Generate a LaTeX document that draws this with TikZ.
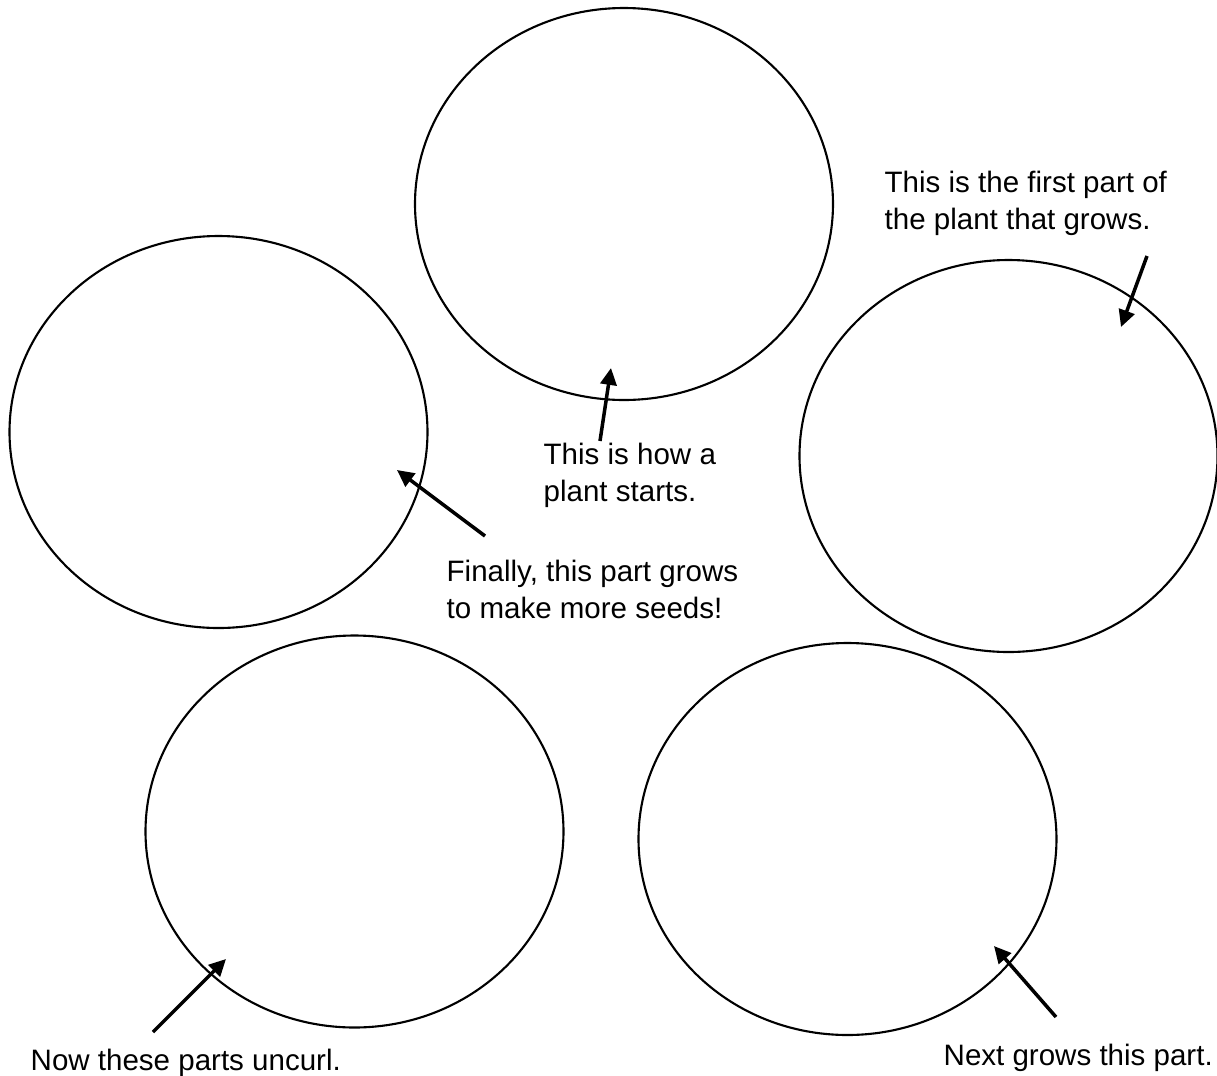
\documentclass[tikz,border=0pt]{standalone}
\usepackage{fontspec}
\setmainfont{Liberation Sans}
\usepackage{tikz}
\usetikzlibrary{arrows.meta}
\usetikzlibrary{shapes.geometric}

\begin{document}
\begin{tikzpicture}
\fontsize{8.4}{10.5}\selectfont
\tikzstyle{stage}=[ellipse, draw=black, line width=0.6pt, minimum width=4.18cm, minimum height=3.92cm, inner sep=0pt]
\tikzstyle{pointer}=[line width=1pt, -{Triangle[length=4.8pt, width=4.6pt]}]
\tikzstyle{note}=[inner sep=0pt, align=left]
\useasboundingbox (0,0) rectangle (12.17,-10.76);
% the five stages
\foreach \name/\x/\y in {seed/6.24/-2.04, sprout/10.085/-4.56, stem/8.475/-8.39, leaves/3.545/-8.315, flower/2.185/-4.32}
    \node[stage] (\name) at (\x,\y) {};
% labels
\node[note, anchor=north west] (l-seed) at (5.43,-4.42) {This is how a\\plant starts.};
\node[note, anchor=north west] (l-sprout) at (8.84,-1.70) {This is the first part of\\the plant that grows.};
\node[note, anchor=north west] (l-flower) at (4.46,-5.59) {Finally, this part grows\\to make more seeds!};
\node[note, anchor=base west] (l-leaves) at (0.30,-10.70) {Now these parts uncurl.};
\node[note, anchor=base west] (l-stem) at (9.43,-10.65) {Next grows this part.};
% arrow ends
\foreach \name/\tx/\ty/\hx/\hy in {seed/6.00/-4.41/6.11/-3.68, sprout/11.47/-2.56/11.21/-3.27, flower/4.85/-5.36/3.97/-4.70, leaves/1.53/-10.32/2.26/-9.59, stem/10.56/-10.17/9.94/-9.46}
   {
    \coordinate (t-\name) at (\tx,\ty);
    \coordinate (h-\name) at (\hx,\hy);
   }
\foreach \name in {seed,sprout,flower,leaves,stem}
    \draw[pointer] (t-\name) -- (h-\name);
\end{tikzpicture}
\end{document}
